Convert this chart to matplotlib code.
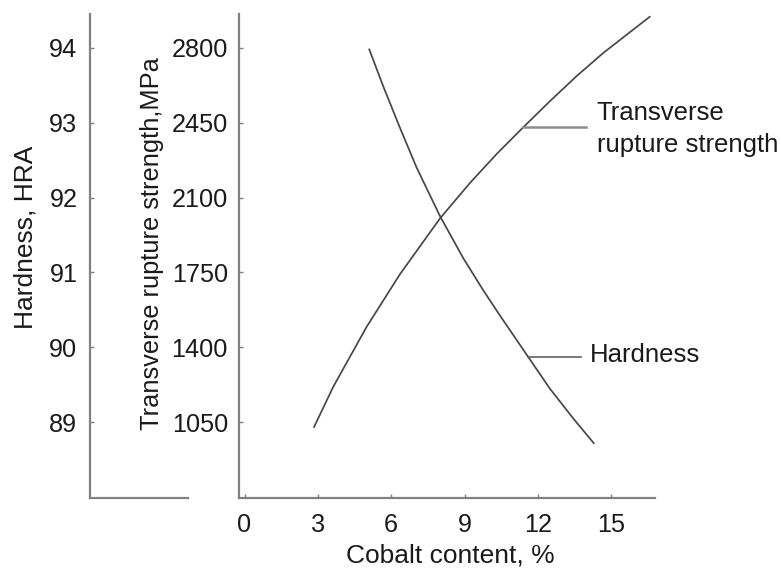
import numpy as np
import matplotlib
matplotlib.use("Agg")
import matplotlib.pyplot as plt

plt.rcParams['font.family'] = ['Liberation Sans', 'DejaVu Sans']

# ---------------- data ----------------
strength_cobalt = [2.84, 3.63, 5.00, 6.36, 8.00, 9.22, 10.31, 11.40, 12.49, 13.59, 14.67, 15.77, 16.58]
strength_mpa = [1027, 1216, 1497, 1742, 2003, 2168, 2303, 2428, 2550, 2668, 2775, 2873, 2945]

hardness_cobalt = [5.10, 5.68, 6.36, 7.04, 8.00, 8.95, 9.77, 10.46, 11.61, 12.49, 13.45, 14.29]
hardness_hra = [93.98, 93.48, 92.93, 92.40, 91.75, 91.19, 90.76, 90.42, 89.87, 89.45, 89.05, 88.72]

x_ticks = [0, 3, 6, 9, 12, 15]
strength_ticks = [1050, 1400, 1750, 2100, 2450, 2800]
hardness_ticks = [89, 90, 91, 92, 93, 94]

x_label = "Cobalt content, %"
strength_label = "Transverse rupture strength,MPa"
hardness_label = "Hardness, HRA"
strength_curve_label = "Transverse\nrupture strength"
hardness_curve_label = "Hardness"

# ---------------- styling / layout ----------------
W, H = 781, 570
TEXT = '#1a1a1a'
SPINE = '#808080'
CURVE = '#474747'
FS_TICK = 18.2
FS_LABEL = 19
FS_SLABEL = 18.3
FS_CURVE = 18.5

main_l, main_r, main_t, main_b = 239, 655, 14, 498
out_l, out_r = 90, 188

xlim = (-0.225, 16.79)
s_lim = (696.4, 2957.4)
h_lim = (87.99, 94.45)

# connector / label positions (cobalt %)
s_conn = (11.40, 13.97)
h_conn = (11.61, 13.76)
s_text_x = 14.40
h_text_x = 14.11

fig = plt.figure(figsize=(W / 100, H / 100), dpi=100)
fig.patch.set_facecolor('white')

def rect(l, r):
    return [l / W, (H - main_b) / H, (r - l) / W, (main_b - main_t) / H]

ax = fig.add_axes(rect(main_l, main_r))
ax_out = fig.add_axes(rect(out_l, out_r))
ax_h = fig.add_axes(rect(main_l, main_r), sharex=ax)
ax_h.set_facecolor('none')
ax_h.axis('off')

for a in (ax, ax_out):
    a.spines['top'].set_visible(False)
    a.spines['right'].set_visible(False)
    for s in ('left', 'bottom'):
        a.spines[s].set_color(SPINE)
        a.spines[s].set_linewidth(1.6)
    a.tick_params(direction='in', length=3, width=1, color=SPINE,
                  labelsize=FS_TICK, labelcolor=TEXT)
    a.set_facecolor('none')

ax.set_xlim(*xlim)
ax.set_ylim(*s_lim)
ax_h.set_ylim(*h_lim)
ax_out.set_ylim(*h_lim)
ax_out.set_xticks([])

ax.set_xticks(x_ticks)
ax.set_xticklabels([str(v) for v in x_ticks])
ax.set_yticks(strength_ticks)
ax.set_yticklabels([str(v) for v in strength_ticks])
ax.tick_params(axis='y', pad=8)
ax.tick_params(axis='x', pad=11)
ax_out.set_yticks(hardness_ticks)
ax_out.set_yticklabels([str(v) for v in hardness_ticks])
ax_out.tick_params(axis='y', pad=9)

# curves
ax.plot(strength_cobalt, strength_mpa, color=CURVE, lw=1.25, clip_on=False,
        solid_capstyle='round', solid_joinstyle='round')
ax_h.plot(hardness_cobalt, hardness_hra, color=CURVE, lw=1.25, clip_on=False,
          solid_capstyle='round', solid_joinstyle='round')

# connectors and curve labels
s_y = np.interp(s_conn[0], strength_cobalt, strength_mpa)
ax.plot(s_conn, [s_y, s_y], color='#8c8c8c', lw=1.8, clip_on=False)
ax.text(s_text_x, s_y - 8, strength_curve_label, fontsize=FS_CURVE, color=TEXT,
        ha='left', va='center', linespacing=1.42)

h_y = np.interp(h_conn[0], hardness_cobalt, hardness_hra)
ax_h.plot(h_conn, [h_y, h_y], color='#606060', lw=1.2, clip_on=False)
ax_h.text(h_text_x, h_y + 0.03, hardness_curve_label, fontsize=FS_CURVE, color=TEXT,
          ha='left', va='center')

# axis labels
ax.set_xlabel(x_label, fontsize=FS_LABEL, color=TEXT)
ax.xaxis.set_label_coords((450 - main_l) / (main_r - main_l), -(543 - main_b) / (main_b - main_t))
ax.set_ylabel(strength_label, fontsize=FS_SLABEL, color=TEXT, va='center', ha='center')
ax.yaxis.set_label_coords((152 - main_l) / (main_r - main_l), (main_b - 243.5) / (main_b - main_t))
ax_out.set_ylabel(hardness_label, fontsize=FS_LABEL, color=TEXT, va='center', ha='center')
ax_out.yaxis.set_label_coords((25.5 - out_l) / (out_r - out_l), (main_b - 237) / (main_b - main_t))

fig.savefig('out.png', dpi=100, facecolor='white')
